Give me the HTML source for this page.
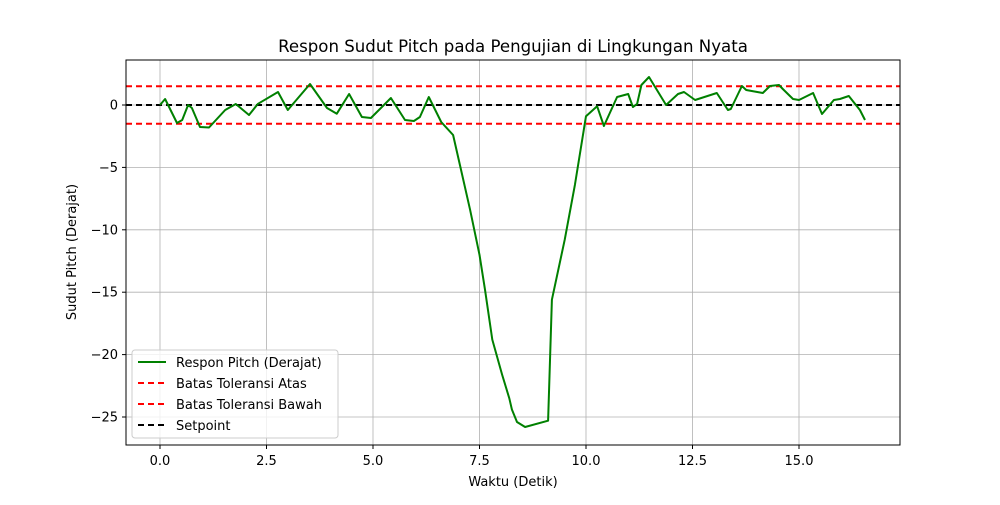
<!DOCTYPE html>
<html><head><meta charset="utf-8"><style>
body{margin:0;background:#fff}
svg text{font-family:"DejaVu Sans","Liberation Sans",sans-serif;fill:#000}
</style></head><body>
<svg id="chart" width="1000" height="500" xmlns="http://www.w3.org/2000/svg">
<rect width="1000" height="500" fill="#fff"/>
<g id="grid"></g>
<g id="refs"></g>
<g id="series"></g>
<rect x="126" y="60" width="774" height="385" fill="none" stroke="#000" stroke-width="1"/>
<g id="ticks"></g>
<text x="513" y="52" text-anchor="middle" font-size="16.6">Respon Sudut Pitch pada Pengujian di Lingkungan Nyata</text>
<text x="513" y="486" text-anchor="middle" font-size="13">Waktu (Detik)</text>
<text x="76" y="252" text-anchor="middle" font-size="13" transform="rotate(-90 76 252)">Sudut Pitch (Derajat)</text>
<g>
<rect x="132" y="350" width="206" height="88" rx="3" fill="#fff" fill-opacity="0.8" stroke="#ccc"/>
<g><line x1="138" y1="362" x2="166" y2="362" stroke="green" stroke-width="2"/><text x="176" y="367" font-size="13">Respon Pitch (Derajat)</text></g>
<g><line x1="138" y1="383" x2="166" y2="383" stroke="red" stroke-width="2" stroke-dasharray="6,4"/><text x="176" y="388" font-size="13">Batas Toleransi Atas</text></g>
<g><line x1="138" y1="404" x2="166" y2="404" stroke="red" stroke-width="2" stroke-dasharray="6,4"/><text x="176" y="409" font-size="13">Batas Toleransi Bawah</text></g>
<g><line x1="138" y1="425" x2="166" y2="425" stroke="#000" stroke-width="2" stroke-dasharray="6,4"/><text x="176" y="430" font-size="13">Setpoint</text></g>
</g>
</svg>
<script>
const times=[0,0.12,0.4,0.52,0.66,0.75,0.94,1.15,1.53,1.78,2.09,2.3,2.77,3.0,3.52,3.92,4.15,4.44,4.74,4.95,5.42,5.75,5.96,6.1,6.31,6.6,6.88,7.04,7.28,7.5,7.63,7.8,8.03,8.2,8.26,8.38,8.57,9.11,9.2,9.5,9.74,10.0,10.26,10.42,10.73,10.99,11.1,11.2,11.3,11.48,11.88,12.16,12.3,12.56,13.07,13.33,13.4,13.66,13.76,14.15,14.32,14.53,14.62,14.86,15.0,15.33,15.54,15.82,15.96,16.17,16.43,16.55];
const pitch=[0,0.48,-1.44,-1.2,0,-0.24,-1.76,-1.8,-0.4,0.08,-0.8,0.1,1.04,-0.4,1.68,-0.24,-0.7,0.88,-0.96,-1.04,0.56,-1.2,-1.28,-0.96,0.64,-1.36,-2.4,-4.8,-8.4,-12,-14.8,-18.8,-21.6,-23.5,-24.4,-25.4,-25.8,-25.3,-15.6,-10.8,-6.4,-0.9,-0.1,-1.68,0.64,0.88,-0.16,0.08,1.6,2.24,0,0.88,1.04,0.4,0.96,-0.4,-0.32,1.52,1.2,0.96,1.52,1.6,1.28,0.48,0.4,0.96,-0.72,0.4,0.48,0.72,-0.4,-1.2];
const refValues=[1.5,-1.5,0];
const xTicks=[0,2.5,5,7.5,10,12.5,15];
const yTicks=[0,-5,-10,-15,-20,-25];
const X=v=>160+v*42.6, Y=v=>105-v*12.48;
const NS="http://www.w3.org/2000/svg";
function mk(t,p,a){const e=document.createElementNS(NS,t);for(const k in a)e.setAttribute(k,a[k]);p.appendChild(e);return e;}
const G=document.getElementById('grid'),T=document.getElementById('ticks');
xTicks.forEach(v=>{
 const l=mk('line',G,{x1:X(v),x2:X(v),y1:60,y2:445,stroke:'#b0b0b0','stroke-width':0.8});
 
 
 mk('line',T,{x1:X(v),x2:X(v),y1:445,y2:449,stroke:'#000'});
 const t=mk('text',T,{x:X(v),y:465,'text-anchor':'middle','font-size':13});t.textContent=v.toFixed(1);
 
 
});
yTicks.forEach(v=>{
 const l=mk('line',G,{x1:126,x2:900,y1:Y(v),y2:Y(v),stroke:'#b0b0b0','stroke-width':0.8});
 
 
 mk('line',T,{x1:122,x2:126,y1:Y(v),y2:Y(v),stroke:'#000'});
 const t=mk('text',T,{x:118,y:Y(v)+4.5,'text-anchor':'end','font-size':13});t.textContent=v<0?'\u2212'+(-v):String(v);
 
 
});
const R=document.getElementById('refs');
const refNames=['upper-tolerance-line','lower-tolerance-line','setpoint-line'];
refValues.forEach((v,i)=>{
 const l=mk('line',R,{x1:126,x2:900,y1:Y(v),y2:Y(v),stroke:i<2?'red':'#000','stroke-width':2,'stroke-dasharray':'6,4'});
 
 
});
const p=mk('path',document.getElementById('series'),{d:times.map((t,i)=>(i?'L':'M')+X(t).toFixed(1)+','+Y(pitch[i]).toFixed(1)).join(''),fill:'none',stroke:'green','stroke-width':2,'stroke-linejoin':'round'});


</script>
</body></html>
